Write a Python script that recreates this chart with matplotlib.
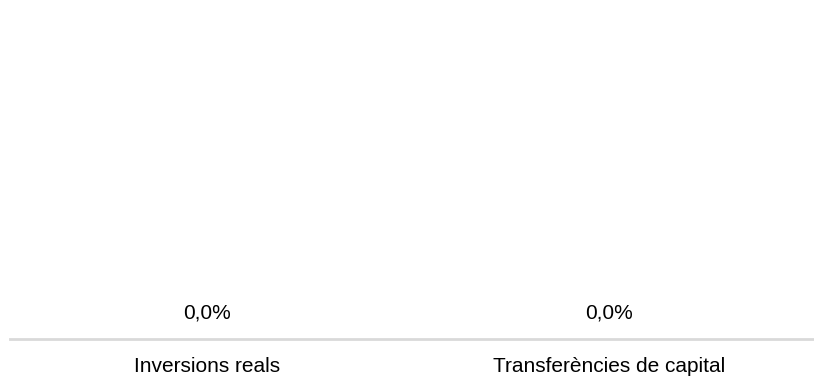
import matplotlib
matplotlib.use('Agg')
import matplotlib.pyplot as plt

# dades
categories = ['Inversions reals', 'Transferències de capital']
values = [0.0, 0.0]
value_labels = ['0,0%', '0,0%']

plt.rcParams['font.family'] = ['Liberation Sans', 'DejaVu Sans']

fig = plt.figure(figsize=(8.14, 3.77), dpi=100)
ax = fig.add_axes([10 / 814, 38 / 377, 1 - 10 / 814, 0.85])

x = list(range(len(categories)))
bars = ax.bar(x, values, width=0.6, color='#4472c4')
ax.set_xlim(-0.49, 1.51)
ax.set_ylim(0, 1)

# etiquetes de valor sobre cada barra
for xi, v, lab in zip(x, values, value_labels):
    ax.annotate(lab, (xi, v), xytext=(0, 12), textcoords='offset points',
                ha='center', va='bottom', fontsize=15, color='#000000')

for s in ['top', 'right', 'left']:
    ax.spines[s].set_visible(False)
ax.spines['bottom'].set_color('#d9d9d9')
ax.spines['bottom'].set_linewidth(2)
ax.set_yticks([])
ax.set_xticks(x)
ax.set_xticklabels(categories, fontsize=15)
ax.tick_params(axis='x', length=0, pad=13)

fig.savefig('out.png', dpi=100)
